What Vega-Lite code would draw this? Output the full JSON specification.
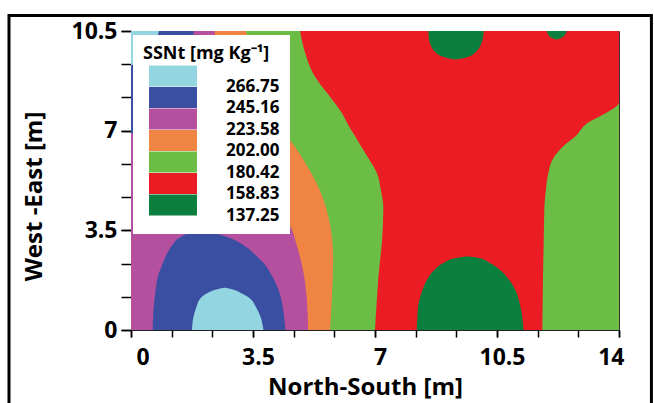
{
  "$schema": "https://vega.github.io/schema/vega-lite/v6.json",
  "width": 488,
  "height": 299,
  "autosize": {"type": "none"},
  "padding": {"left": 131, "top": 31, "right": 35, "bottom": 73},
  "background": "white",
  "config": {
    "view": {"stroke": "#333", "strokeWidth": 1},
    "font": "Open Sans",
    "axis": {"labelFont": "Open Sans", "labelFontSize": 23, "labelFontWeight": "bold", "labelColor": "black", "labelOverlap": false, "titleFont": "Open Sans", "titleFontSize": 24, "titleFontWeight": "bold", "titleColor": "black", "domainColor": "#222", "tickColor": "black", "tickWidth": 1.5, "grid": false},
    "axisX": {"tickSize": 7, "labelPadding": 9, "labelOffset": 5, "titlePadding": 6},
    "axisY": {"tickSize": 10, "labelPadding": 4, "titlePadding": 14}
  },
  "resolve": {"axis": {"x": "independent", "y": "independent"}},
  "data": {"values": [
    {"r": "bg", "level": "180.42", "y": 0, "x1": 0, "x2": 14},
    {"r": "bg", "level": "180.42", "y": 10.5, "x1": 0, "x2": 14},

    {"r": "or", "level": "202.00", "y": 0, "x1": 0, "x2": 5.71},
    {"r": "or", "level": "202.00", "y": 1.3, "x1": 0, "x2": 5.77},
    {"r": "or", "level": "202.00", "y": 2.5, "x1": 0, "x2": 5.8},
    {"r": "or", "level": "202.00", "y": 3.7, "x1": 0, "x2": 5.71},
    {"r": "or", "level": "202.00", "y": 4.9, "x1": 0, "x2": 5.42},
    {"r": "or", "level": "202.00", "y": 6.05, "x1": 0, "x2": 4.91},
    {"r": "or", "level": "202.00", "y": 7.2, "x1": 0, "x2": 4.28},
    {"r": "or", "level": "202.00", "y": 8.2, "x1": 0, "x2": 3.8},
    {"r": "or", "level": "202.00", "y": 9.3, "x1": 0, "x2": 3.5},
    {"r": "or", "level": "202.00", "y": 10.5, "x1": 0, "x2": 3.3},

    {"r": "pk", "level": "223.58", "y": 0, "x1": 0, "x2": 5.08},
    {"r": "pk", "level": "223.58", "y": 1.0, "x1": 0, "x2": 5.05},
    {"r": "pk", "level": "223.58", "y": 2.0, "x1": 0, "x2": 4.95},
    {"r": "pk", "level": "223.58", "y": 3.0, "x1": 0, "x2": 4.75},
    {"r": "pk", "level": "223.58", "y": 3.7, "x1": 0, "x2": 4.55},
    {"r": "pk", "level": "223.58", "y": 4.1, "x1": 0, "x2": 4.32},
    {"r": "pk", "level": "223.58", "y": 4.6, "x1": 0, "x2": 4.0},
    {"r": "pk", "level": "223.58", "y": 5.5, "x1": 0, "x2": 3.4},
    {"r": "pk", "level": "223.58", "y": 6.5, "x1": 0, "x2": 2.9},
    {"r": "pk", "level": "223.58", "y": 8.0, "x1": 0, "x2": 2.6},
    {"r": "pk", "level": "223.58", "y": 10.5, "x1": 0, "x2": 2.4},

    {"r": "bl", "level": "245.16", "y": 0, "x1": 0.62, "x2": 4.43},
    {"r": "bl", "level": "245.16", "y": 0.6, "x1": 0.64, "x2": 4.38},
    {"r": "bl", "level": "245.16", "y": 1.35, "x1": 0.7, "x2": 4.25},
    {"r": "bl", "level": "245.16", "y": 2.0, "x1": 0.8, "x2": 4.0},
    {"r": "bl", "level": "245.16", "y": 2.3, "x1": 0.9, "x2": 3.84},
    {"r": "bl", "level": "245.16", "y": 2.6, "x1": 1.0, "x2": 3.6},
    {"r": "bl", "level": "245.16", "y": 3.0, "x1": 1.2, "x2": 3.2},
    {"r": "bl", "level": "245.16", "y": 3.25, "x1": 1.4, "x2": 2.8},
    {"r": "bl", "level": "245.16", "y": 3.4, "x1": 1.7, "x2": 2.4},
    {"r": "bl", "level": "245.16", "y": 3.47, "x1": 2.05, "x2": 2.1},

    {"r": "bt", "level": "245.16", "y": 6.9, "x1": 0, "x2": 0.02},
    {"r": "bt", "level": "245.16", "y": 7.3, "x1": 0, "x2": 0.8},
    {"r": "bt", "level": "245.16", "y": 8.0, "x1": 0, "x2": 1.3},
    {"r": "bt", "level": "245.16", "y": 9.0, "x1": 0, "x2": 1.6},
    {"r": "bt", "level": "245.16", "y": 10.5, "x1": 0, "x2": 1.8},

    {"r": "lb", "level": "266.75", "y": 0, "x1": 1.75, "x2": 3.8},
    {"r": "lb", "level": "266.75", "y": 0.45, "x1": 1.79, "x2": 3.72},
    {"r": "lb", "level": "266.75", "y": 0.82, "x1": 1.88, "x2": 3.58},
    {"r": "lb", "level": "266.75", "y": 1.12, "x1": 2.0, "x2": 3.4},
    {"r": "lb", "level": "266.75", "y": 1.3, "x1": 2.2, "x2": 3.15},
    {"r": "lb", "level": "266.75", "y": 1.42, "x1": 2.45, "x2": 2.92},
    {"r": "lb", "level": "266.75", "y": 1.48, "x1": 2.68, "x2": 2.7},

    {"r": "lt", "level": "266.75", "y": 9.3, "x1": 0, "x2": 0.02},
    {"r": "lt", "level": "266.75", "y": 9.7, "x1": 0, "x2": 0.5},
    {"r": "lt", "level": "266.75", "y": 10.5, "x1": 0, "x2": 0.8},

    {"r": "rd", "level": "158.83", "y": 0, "x1": 7.0, "x2": 11.8},
    {"r": "rd", "level": "158.83", "y": 1.0, "x1": 7.05, "x2": 11.81},
    {"r": "rd", "level": "158.83", "y": 1.9, "x1": 7.1, "x2": 11.82},
    {"r": "rd", "level": "158.83", "y": 3.1, "x1": 7.2, "x2": 11.84},
    {"r": "rd", "level": "158.83", "y": 4.3, "x1": 7.24, "x2": 11.86},
    {"r": "rd", "level": "158.83", "y": 4.9, "x1": 7.17, "x2": 11.9},
    {"r": "rd", "level": "158.83", "y": 5.5, "x1": 7.06, "x2": 11.97},
    {"r": "rd", "level": "158.83", "y": 6.0, "x1": 6.83, "x2": 12.1},
    {"r": "rd", "level": "158.83", "y": 6.45, "x1": 6.6, "x2": 12.4},
    {"r": "rd", "level": "158.83", "y": 6.8, "x1": 6.43, "x2": 12.75},
    {"r": "rd", "level": "158.83", "y": 7.27, "x1": 6.2, "x2": 13.1},
    {"r": "rd", "level": "158.83", "y": 7.6, "x1": 6.06, "x2": 13.6},
    {"r": "rd", "level": "158.83", "y": 8.0, "x1": 5.83, "x2": 14.0},
    {"r": "rd", "level": "158.83", "y": 9.0, "x1": 5.23, "x2": 14.0},
    {"r": "rd", "level": "158.83", "y": 9.8, "x1": 4.98, "x2": 14.0},
    {"r": "rd", "level": "158.83", "y": 10.5, "x1": 4.85, "x2": 14.0},

    {"r": "gb", "level": "137.25", "y": 0, "x1": 8.2, "x2": 11.26},
    {"r": "gb", "level": "137.25", "y": 0.59, "x1": 8.22, "x2": 11.21},
    {"r": "gb", "level": "137.25", "y": 0.94, "x1": 8.25, "x2": 11.15},
    {"r": "gb", "level": "137.25", "y": 1.29, "x1": 8.33, "x2": 11.07},
    {"r": "gb", "level": "137.25", "y": 1.76, "x1": 8.49, "x2": 10.85},
    {"r": "gb", "level": "137.25", "y": 2.11, "x1": 8.7, "x2": 10.59},
    {"r": "gb", "level": "137.25", "y": 2.35, "x1": 8.96, "x2": 10.3},
    {"r": "gb", "level": "137.25", "y": 2.52, "x1": 9.3, "x2": 10.01},
    {"r": "gb", "level": "137.25", "y": 2.58, "x1": 9.6, "x2": 9.7},

    {"r": "gt", "level": "137.25", "y": 9.5, "x1": 9.3, "x2": 9.32},
    {"r": "gt", "level": "137.25", "y": 9.6, "x1": 8.95, "x2": 9.68},
    {"r": "gt", "level": "137.25", "y": 9.8, "x1": 8.7, "x2": 9.92},
    {"r": "gt", "level": "137.25", "y": 10.0, "x1": 8.6, "x2": 10.03},
    {"r": "gt", "level": "137.25", "y": 10.2, "x1": 8.55, "x2": 10.09},
    {"r": "gt", "level": "137.25", "y": 10.5, "x1": 8.53, "x2": 10.12},

    {"r": "gs", "level": "137.25", "y": 10.2, "x1": 12.2, "x2": 12.22},
    {"r": "gs", "level": "137.25", "y": 10.3, "x1": 12.02, "x2": 12.4},
    {"r": "gs", "level": "137.25", "y": 10.4, "x1": 11.96, "x2": 12.47},
    {"r": "gs", "level": "137.25", "y": 10.5, "x1": 11.93, "x2": 12.5}
  ]},
  "layer": [
    {
      "encoding": {
        "y": {"field": "y", "type": "quantitative", "scale": {"domain": [0, 10.5], "nice": false, "zero": false},
              "axis": {"title": "West -East [m]", "orient": "left", "values": [0, 3.5, 7, 10.5], "labelExpr": "format(datum.value, '.1~f')", "titleY": 165, "titleX": -85}},
        "x": {"field": "x1", "type": "quantitative", "scale": {"domain": [0, 14], "nice": false, "zero": false},
              "axis": {"title": "North-South [m]", "orient": "bottom", "values": [0, 3.5, 7, 10.5, 14], "labelExpr": "format(datum.value, '.1~f')", "titleX": 234}},
        "x2": {"field": "x2"},
        "color": {"field": "level", "type": "nominal",
                  "scale": {"domain": ["266.75", "245.16", "223.58", "202.00", "180.42", "158.83", "137.25"],
                            "range": ["#93d5e1", "#3a4fa2", "#b5509f", "#f08543", "#6bbd46", "#ec1c24", "#0b7f3e"]},
                  "legend": {"title": "SSNt [mg Kg⁻¹]", "orient": "none", "legendX": 2, "legendY": 4,
                             "padding": 10, "fillColor": "white",
                             "titleFont": "Open Sans", "titleFontSize": 18, "titleFontWeight": "bold", "titleColor": "black", "titlePadding": 13,
                             "labelFont": "Open Sans", "labelFontSize": 17, "labelFontWeight": "bold", "labelColor": "black",
                             "labelBaseline": "middle", "labelOffset": 56,
                             "symbolType": "M-1,-2H3.57V0H-1Z", "symbolSize": 441, "symbolStrokeWidth": 0, "symbolOpacity": 1, "symbolOffset": 6,
                             "rowPadding": -8.5}}
      },
      "layer": [
        {"transform": [{"filter": "datum.r === 'bg'"}], "mark": {"type": "area", "orient": "horizontal", "opacity": 1}},
        {"transform": [{"filter": "datum.r === 'or'"}], "mark": {"type": "area", "orient": "horizontal", "interpolate": "monotone", "opacity": 1}},
        {"transform": [{"filter": "datum.r === 'pk'"}], "mark": {"type": "area", "orient": "horizontal", "interpolate": "monotone", "opacity": 1}},
        {"transform": [{"filter": "datum.r === 'bl'"}], "mark": {"type": "area", "orient": "horizontal", "interpolate": "monotone", "opacity": 1}},
        {"transform": [{"filter": "datum.r === 'bt'"}], "mark": {"type": "area", "orient": "horizontal", "interpolate": "monotone", "opacity": 1}},
        {"transform": [{"filter": "datum.r === 'lb'"}], "mark": {"type": "area", "orient": "horizontal", "interpolate": "monotone", "opacity": 1}},
        {"transform": [{"filter": "datum.r === 'lt'"}], "mark": {"type": "area", "orient": "horizontal", "interpolate": "monotone", "opacity": 1}},
        {"transform": [{"filter": "datum.r === 'rd'"}], "mark": {"type": "area", "orient": "horizontal", "interpolate": "monotone", "opacity": 1}},
        {"transform": [{"filter": "datum.r === 'gb'"}], "mark": {"type": "area", "orient": "horizontal", "interpolate": "monotone", "opacity": 1}},
        {"transform": [{"filter": "datum.r === 'gt'"}], "mark": {"type": "area", "orient": "horizontal", "interpolate": "monotone", "opacity": 1}},
        {"transform": [{"filter": "datum.r === 'gs'"}], "mark": {"type": "area", "orient": "horizontal", "interpolate": "monotone", "opacity": 1}}
      ]
    },
    {
      "data": {"values": [{}]},
      "mark": {"type": "rect", "filled": false, "stroke": "black", "strokeWidth": 3, "clip": false},
      "encoding": {
        "x": {"datum": -3.5, "type": "quantitative",
              "axis": {"orient": "bottom", "values": [0, 1.16667, 2.33333, 3.5, 4.66667, 5.83333, 7, 8.16667, 9.33333, 10.5, 11.66667, 12.83333, 14], "labels": false, "title": null, "domain": false}},
        "x2": {"datum": 14.93},
        "y": {"datum": 11.04, "type": "quantitative",
              "axis": {"orient": "left", "values": [0, 1.16667, 2.33333, 3.5, 4.66667, 5.83333, 7, 8.16667, 9.33333, 10.5], "labels": false, "title": null, "domain": false}},
        "y2": {"datum": -3.2}
      }
    }
  ]
}
